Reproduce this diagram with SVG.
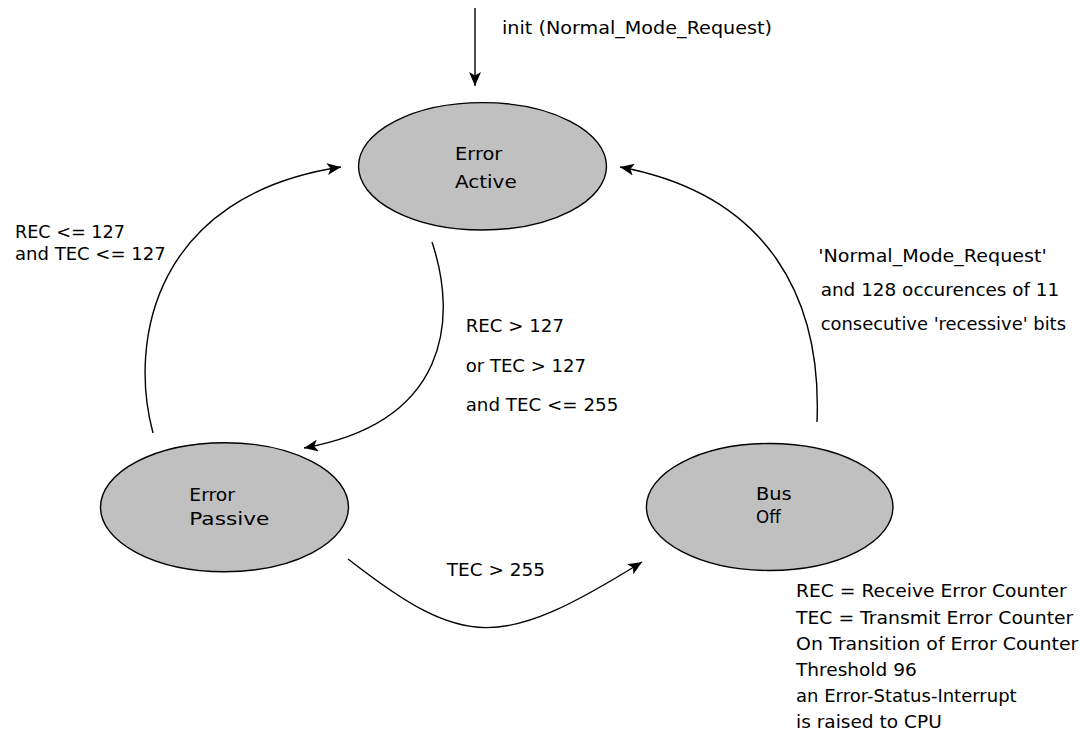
<svg xmlns="http://www.w3.org/2000/svg" width="1080" height="731" viewBox="0 0 1080 731">
<style>
  text { font-family: "DejaVu Sans", "Liberation Sans", sans-serif; font-size: 18px; fill: #000; }
  .state { fill: #c0c0c0; stroke: #000; stroke-width: 1.4; }
  .conn { fill: none; stroke: #000; stroke-width: 1.4; marker-end: url(#arrow); }
</style>
<defs>
  <marker id="arrow" viewBox="0 0 14 12" refX="14" refY="6" markerWidth="14" markerHeight="12" markerUnits="userSpaceOnUse" orient="auto">
    <path d="M0,0 L14,6 L0,12 L3.5,6 z" fill="#000"/>
  </marker>
</defs>
<rect width="1080" height="731" fill="#fff"/>

<g id="connectors">
  <path id="c-init" class="conn" d="M475,8 L475,86"/>
  <path id="c-passive-active" class="conn" d="M153,433 C128,340 155,195 341,167"/>
  <path id="c-active-passive" class="conn" d="M432,242 C458,320 448,422 304,448"/>
  <path id="c-busoff-active" class="conn" d="M817,422 C822,300 770,195 620,167"/>
  <path id="c-passive-busoff" class="conn" d="M348,559 C465,650 500,650 642,562"/>
</g>

<g id="labels">
  <text x="502" y="34" textLength="270" lengthAdjust="spacingAndGlyphs">init (Normal_Mode_Request)</text>
  <text x="15" y="238.3" textLength="110" lengthAdjust="spacingAndGlyphs">REC &lt;= 127</text>
  <text x="15" y="260" textLength="150.7" lengthAdjust="spacingAndGlyphs">and TEC &lt;= 127</text>
  <text x="465.7" y="332.3" textLength="98.3" lengthAdjust="spacingAndGlyphs">REC &gt; 127</text>
  <text x="465.7" y="372" textLength="120.3" lengthAdjust="spacingAndGlyphs">or TEC &gt; 127</text>
  <text x="465.7" y="410.7" textLength="152.6" lengthAdjust="spacingAndGlyphs">and TEC &lt;= 255</text>
  <text x="818.3" y="261.7" textLength="228.4" lengthAdjust="spacingAndGlyphs">'Normal_Mode_Request'</text>
  <text x="820.7" y="296" textLength="238.6" lengthAdjust="spacingAndGlyphs">and 128 occurences of 11</text>
  <text x="820.7" y="330" textLength="245.3" lengthAdjust="spacingAndGlyphs">consecutive 'recessive' bits</text>
  <text x="446.7" y="576" textLength="98.3" lengthAdjust="spacingAndGlyphs">TEC &gt; 255</text>
</g>

<g id="node-error-active">
  <ellipse class="state" cx="482.5" cy="166.3" rx="124" ry="63.7"/>
  <text x="455" y="160" textLength="47.3" lengthAdjust="spacingAndGlyphs">Error</text>
  <text x="455" y="188.3" textLength="61.7" lengthAdjust="spacingAndGlyphs">Active</text>
</g>

<g id="node-error-passive">
  <ellipse class="state" cx="224.5" cy="507.2" rx="124" ry="64.5"/>
  <text x="189.3" y="501" textLength="45.7" lengthAdjust="spacingAndGlyphs">Error</text>
  <text x="189.3" y="525" textLength="80" lengthAdjust="spacingAndGlyphs">Passive</text>
</g>

<g id="node-bus-off">
  <ellipse class="state" cx="769.7" cy="507" rx="123.3" ry="63.5"/>
  <text x="756" y="500" textLength="35.7" lengthAdjust="spacingAndGlyphs">Bus</text>
  <text x="756" y="523.3" textLength="24.7" lengthAdjust="spacingAndGlyphs">Off</text>
</g>

<g id="legend">
  <text x="796" y="597.3" textLength="270.7" lengthAdjust="spacingAndGlyphs">REC = Receive Error Counter</text>
  <text x="796" y="623.5" textLength="277.3" lengthAdjust="spacingAndGlyphs">TEC = Transmit Error Counter</text>
  <text x="796" y="649.7" textLength="282.3" lengthAdjust="spacingAndGlyphs">On Transition of Error Counter</text>
  <text x="796" y="675.9" textLength="120.7" lengthAdjust="spacingAndGlyphs">Threshold 96</text>
  <text x="796" y="702.1" textLength="220.7" lengthAdjust="spacingAndGlyphs">an Error-Status-Interrupt</text>
  <text x="796" y="728.3" textLength="145.7" lengthAdjust="spacingAndGlyphs">is raised to CPU</text>
</g>
</svg>
